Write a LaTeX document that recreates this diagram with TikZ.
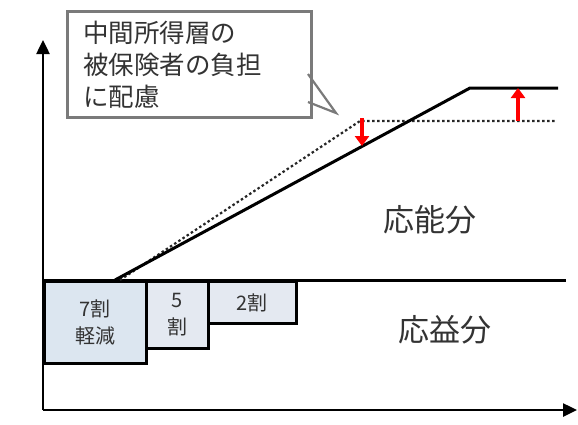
\documentclass[tikz,border=0pt]{standalone}
\usepackage{fontspec}
\newfontfamily\jp{Noto Sans CJK JP}
\usetikzlibrary{arrows.meta}
\definecolor{boxA}{HTML}{DCE6F0}
\definecolor{boxB}{HTML}{E4E9F1}
\definecolor{txt}{HTML}{333333}
\definecolor{calloutgray}{HTML}{7A7A7A}
\tikzset{
  axisline/.style={line width=2.5pt, -{Triangle[length=14pt,width=13pt]}},
  thickline/.style={line width=3pt},
  oldline/.style={line width=2.2pt, dash pattern=on 2.5pt off 2.5pt, draw=black!85},
  stepbox/.style={draw=black, line width=2.8pt, anchor=north west, inner sep=0pt, font=\jp\fontsize{20}{27}\selectfont, text=txt, align=center},
  redarrow/.style={draw=red, line width=4pt, -{Triangle[length=10pt,width=14pt]}},
  calloutbox/.style={draw=calloutgray, line width=2.8pt, fill=white, anchor=north west, font=\jp\fontsize{25.5}{32}\selectfont, text=txt, align=left, inner xsep=16pt},
  bigtext/.style={font=\jp\fontsize{31}{36}\selectfont, text=txt}
}
\begin{document}
\begin{tikzpicture}[x=1pt,y=-1pt]
\useasboundingbox (0,0) rectangle (578,424);
% axes
\coordinate (O) at (43,410);
\coordinate (Ytop) at (43,40);
\coordinate (Xend) at (577,410);
\draw[axisline] (O) -- (Ytop);
\draw[axisline] (O) -- (Xend);
% reduction boxes
\node[stepbox, fill=boxA, minimum width=102pt, minimum height=82pt] (b1) at (43,280) {7割\\軽減};
\node[stepbox, fill=boxB, minimum width=62pt, minimum height=67pt] (b2) at (145,280) {5\\割};
\node[stepbox, fill=boxB, minimum width=88pt, minimum height=42pt] (b3) at (207,280) {2割};
% dividing line
\coordinate (L) at (43,280);
\coordinate (R) at (566,280);
\draw[thickline] (L) -- (R);
% old line (dashed)
\coordinate (D0) at (120,280);
\coordinate (D1) at (360,121);
\coordinate (D2) at (557,121);
\draw[oldline] (D0) -- (D1) -- (D2);
% new line (solid)
\coordinate (S0) at (115,280);
\coordinate (S1) at (470,88);
\coordinate (S2) at (558,88);
\draw[thickline] (S0) -- (S1) -- (S2);
% red arrows
\coordinate (RA0) at (362,118);
\coordinate (RA1) at (362,146);
\draw[redarrow] (RA0) -- (RA1);
\coordinate (RB0) at (518,121);
\coordinate (RB1) at (518,88);
\draw[redarrow] (RB0) -- (RB1);
% callout
\node[calloutbox, minimum width=242pt, minimum height=106pt, text width=212pt] (cb) at (66,10) {中間所得層の\\被保険者の負担\\に配慮};
\coordinate (T1) at (308,74);
\coordinate (T2) at (336,113);
\coordinate (T3) at (308,102);
\draw[draw=calloutgray, line width=2.2pt] (T1) -- (T2) -- (T3);
% labels
\node[bigtext] (ono) at (430,220) {応能分};
\node[bigtext] (oeki) at (445,330) {応益分};
\end{tikzpicture}
\end{document}
